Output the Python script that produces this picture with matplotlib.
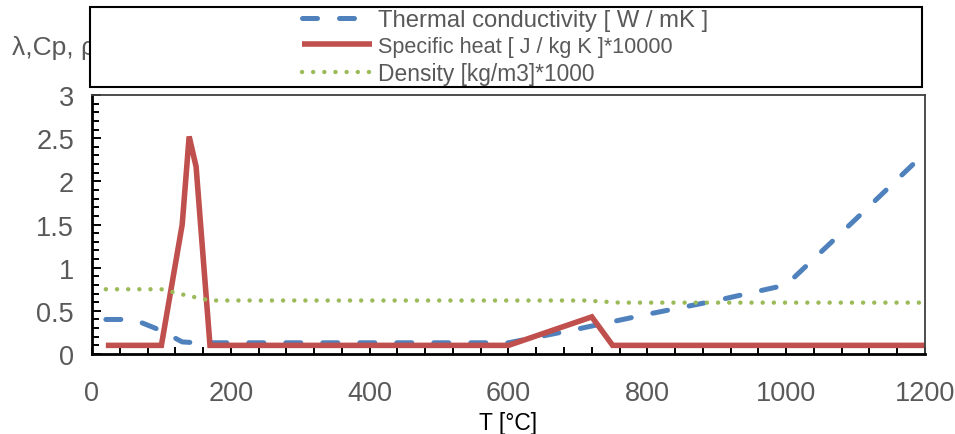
import matplotlib
matplotlib.use("Agg")
import matplotlib.pyplot as plt
from matplotlib.patches import Rectangle
from matplotlib.ticker import MultipleLocator

# Datos
t_lambda = [20, 60, 100, 130, 150, 600, 700, 800, 900, 1000, 1100, 1200]
lam = [0.40, 0.40, 0.27, 0.14, 0.13, 0.13, 0.29, 0.46, 0.62, 0.80, 1.56, 2.33]

t_cp = [20, 100, 130, 140, 150, 170, 600, 720, 750, 1200]
cp = [0.10, 0.10, 1.50, 2.52, 2.17, 0.10, 0.10, 0.43, 0.10, 0.10]

t_rho = [20, 100, 130, 170, 710, 760, 1200]
rho = [0.75, 0.75, 0.69, 0.62, 0.62, 0.595, 0.595]

labels = ["Thermal conductivity [ W / mK ]",
          "Specific heat [ J / kg K ]*10000",
          "Density [kg/m3]*1000"]
label_sizes = [17.2, 15.6, 16.4]

x_ticks = [0, 200, 400, 600, 800, 1000, 1200]
y_ticks = [0, 0.5, 1, 1.5, 2, 2.5, 3]
y_tick_labels = ["0", "0.5", "1", "1.5", "2", "2.5", "3"]

plt.rcParams["font.family"] = ["Liberation Sans", "DejaVu Sans"]
grey = "#595959"

fig = plt.figure(figsize=(9.55, 4.35), dpi=100)
ax = fig.add_axes([0.0963, 0.1839, 0.8723, 0.5954])

ax.plot(t_lambda, lam, color="#4F81BD", lw=3.6, linestyle=(0, (3.0, 4.4)),
        dash_capstyle="round", solid_capstyle="round", label=labels[0])
ax.plot(t_cp, cp, color="#C0504D", lw=4.0, solid_joinstyle="miter",
        solid_capstyle="butt", label=labels[1])
ax.plot(t_rho, rho, color="#9BBB59", lw=3.2, linestyle=(0, (0.01, 2.5)),
        dash_capstyle="round", label=labels[2])

ax.set_xlim(0, 1200)
ax.set_ylim(0, 3)
ax.set_xticks(x_ticks)
ax.set_yticks(y_ticks)
ax.set_yticklabels(y_tick_labels)
ax.xaxis.set_minor_locator(MultipleLocator(40))
ax.yaxis.set_minor_locator(MultipleLocator(0.1))

ax.tick_params(axis="both", which="both", direction="in", width=1.4,
               colors="black", labelcolor=grey, labelsize=19.5)
ax.tick_params(axis="y", which="major", length=6.5, pad=13)
ax.tick_params(axis="y", which="minor", length=5)
ax.tick_params(axis="x", which="major", length=5, pad=19)
ax.tick_params(axis="x", which="minor", length=5)

for s in ["left", "bottom"]:
    ax.spines[s].set_linewidth(2)
    ax.spines[s].set_color("black")
for s in ["top", "right"]:
    ax.spines[s].set_linewidth(1.3)
    ax.spines[s].set_color("#404040")

ax.set_xlabel("T [°C]", fontsize=16.5, color="black", labelpad=3)

# Título del eje y, parcialmente tapado por la leyenda
fig.text(0.013, 0.89, "λ,Cp, ρ", fontsize=19, color=grey, va="center",
         ha="left", zorder=1)

# Marco de la leyenda
fig.patches.append(Rectangle((0.0942, 0.7977), 0.8712, 0.1839,
                             transform=fig.transFigure, facecolor="white",
                             edgecolor="black", lw=1.5, zorder=4))

leg = fig.legend(loc="upper left", bbox_to_anchor=(0.316, 0.977),
                 frameon=False, borderpad=0, borderaxespad=0,
                 handlelength=3.15, handletextpad=0.3, labelspacing=0.22,
                 fontsize=16)
leg.set_zorder(5)
for txt, fs in zip(leg.get_texts(), label_sizes):
    txt.set_fontsize(fs)
    txt.set_color(grey)

fig.savefig("out.png", dpi=100)
